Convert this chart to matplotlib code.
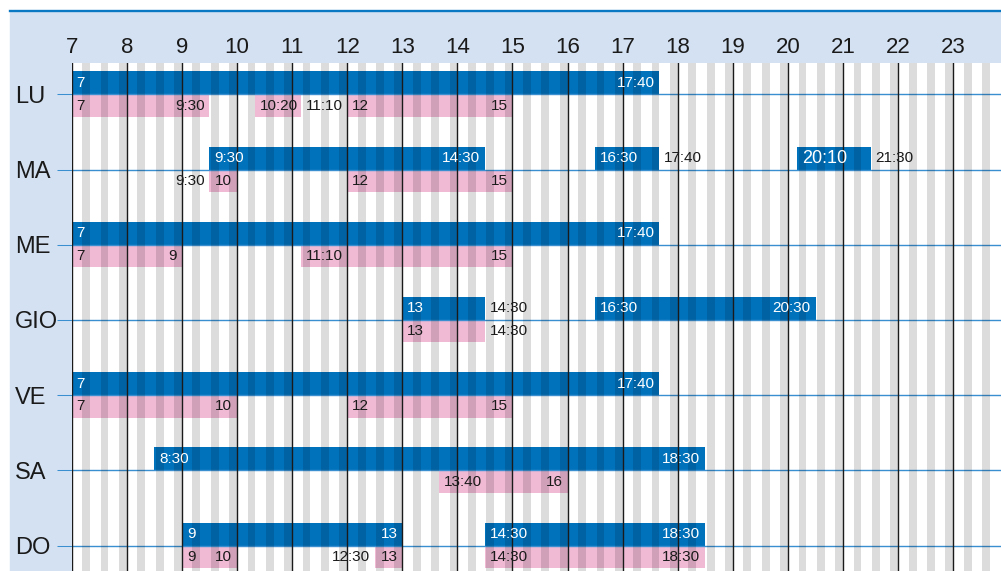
import numpy as np
import matplotlib
matplotlib.use('Agg')
from matplotlib import pyplot as plt
from matplotlib.patches import Rectangle
from matplotlib.lines import Line2D

plt.rcParams['font.family'] = ['Liberation Sans', 'DejaVu Sans']

days = ['LU', 'MA', 'ME', 'GIO', 'VE', 'SA', 'DO']
hours = list(range(7, 24))

# turni "blu" (riga sopra la linea del giorno)
blue_shifts = {
    'LU': [('7', '17:40')],
    'MA': [('9:30', '14:30'), ('16:30', '17:40'), ('20:10', '21:30')],
    'ME': [('7', '17:40')],
    'GIO': [('13', '14:30'), ('16:30', '20:30')],
    'VE': [('7', '17:40')],
    'SA': [('8:30', '18:30')],
    'DO': [('9', '13'), ('14:30', '18:30')],
}
# turni "rosa" (riga sotto la linea del giorno)
pink_shifts = {
    'LU': [('7', '9:30'), ('10:20', '11:10'), ('12', '15')],
    'MA': [('9:30', '10'), ('12', '15')],
    'ME': [('7', '9'), ('11:10', '15')],
    'GIO': [('13', '14:30')],
    'VE': [('7', '10'), ('12', '15')],
    'SA': [('13:40', '16')],
    'DO': [('9', '10'), ('12:30', '13'), ('14:30', '18:30')],
}
# etichette scritte fuori dal rettangolo
blue_outside = [('MA', '17:40'), ('MA', '21:30'), ('GIO', '14:30')]
pink_outside = [('LU', '11:10'), ('MA', '9:30'), ('GIO', '14:30'), ('DO', '12:30')]
big_labels = [('MA', '20:10')]

BLUE = '#0072bc'
PINK = '#f0bad5'
PANEL = '#d4e1f2'
LINE = '#3a8fd0'


def to_h(s):
    p = s.split(':')
    return int(p[0]) + (int(p[1]) / 60 if len(p) > 1 else 0)


W, H = 1001, 571
fig = plt.figure(figsize=(W / 100, H / 100), dpi=100)
fig.patch.set_facecolor('white')
fig.add_artist(Rectangle((10 / W, 0), 1 - 10 / W, (H - 12) / H,
                         transform=fig.transFigure, color=PANEL, zorder=-5))
fig.add_artist(Line2D([10 / W, 1], [1 - 10.5 / H] * 2, color='#0a78c2', lw=1.7, zorder=-4))

x0, y0 = 71.7, 62.7
ax = fig.add_axes([x0 / W, 0, (W - x0) / W, (H - y0) / H])
ax.set_facecolor('white')
for s in ax.spines.values():
    s.set_visible(False)

px_h = (953.3 - x0) / 16
ax.set_xlim(7, 23 + (W - 953.3) / px_h)
day_px = 75.2
ax.set_ylim((H - 94.3) / day_px, -(94.3 - y0) / day_px)

bh_blue = 23 / day_px
bh_pink = 22.4 / day_px

# righe grigie ogni 20 minuti (effetto "moltiplica")
for t in np.arange(7 + 1 / 3, 24.01, 1 / 3):
    ax.axvspan(t - 8.5 / 60, t, color='black', alpha=0.137, lw=0, zorder=3)

for h in hours:
    ax.axvline(h, color='#1a1a1a', lw=1.0, zorder=4)

for i, d in enumerate(days):
    ax.axhline(i, color=LINE, lw=1.0, zorder=2.5)


def draw_row(i, d, shifts, outside, color, txtcol, ymid, bh, top):
    for a, b in shifts:
        s, e = to_h(a), to_h(b)
        yb = i - bh if top else i
        ax.barh(yb, e - s, left=s, height=bh, align='edge', color=color, lw=0, zorder=2)
        for lab, x, side in ((a, s, 'start'), (b, e, 'end')):
            out = (d, lab) in outside
            fs = 13 if (d, lab) in big_labels else 11
            if side == 'start':
                dx, ha = (-3.5, 'right') if out else (3.5, 'left')
            else:
                dx, ha = (3.5, 'left') if out else (-3.5, 'right')
            ax.annotate(lab, (x, i + ymid), xytext=(dx, 0), textcoords='offset points',
                        ha=ha, va='center', fontsize=fs,
                        color='#1a1a1a' if out else txtcol, zorder=6)


for i, d in enumerate(days):
    draw_row(i, d, blue_shifts[d], blue_outside, BLUE, 'white', -bh_blue / 2, bh_blue, True)
    draw_row(i, d, pink_shifts[d], pink_outside, PINK, '#1a1a1a', bh_pink / 2, bh_pink, False)

ax.xaxis.tick_top()
ax.set_xticks(hours)
ax.set_xticklabels([str(h) for h in hours], fontsize=16, color='#1a1a1a')
ax.tick_params(axis='x', length=0, pad=3.5)

ax.set_yticks(range(len(days)))
ax.set_yticklabels(days, fontsize=17, color='#1a1a1a')
ax.tick_params(axis='y', length=15 * 0.72, width=0.75, color=LINE, pad=(x0 - 15 - 15) * 0.72)
for lbl in ax.get_yticklabels():
    lbl.set_horizontalalignment('left')

fig.savefig('out.png', dpi=100)
